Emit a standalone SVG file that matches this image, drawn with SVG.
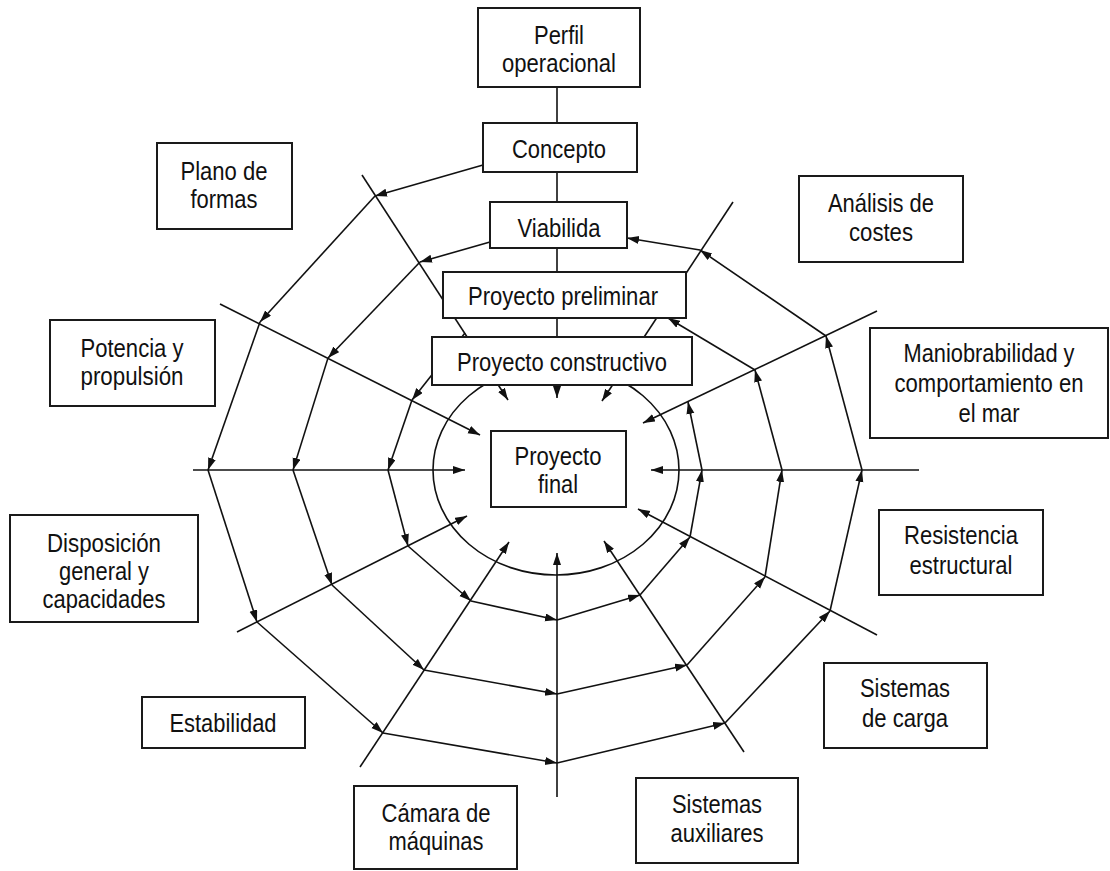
<svg xmlns="http://www.w3.org/2000/svg" width="1110" height="871" viewBox="0 0 1110 871">
  <defs>
    <marker id="ah" markerUnits="userSpaceOnUse" markerWidth="13" markerHeight="9" refX="12" refY="4" orient="auto">
      <path d="M0,0 L12,4 L0,8 z" fill="#111"/>
    </marker>
    <style>
      .box { fill: #fff; stroke: #1a1a1a; stroke-width: 2; }
      .ln { fill: none; stroke: #111; stroke-width: 1.6; }
      .ar { fill: none; stroke: #111; stroke-width: 1.6; marker-end: url(#ah); }
      .t { font-family: "Liberation Sans", Arial, sans-serif; font-size: 25px; fill: #111; text-anchor: middle; }
    </style>
  </defs>

  <rect width="1110" height="871" fill="#fff"/>

  <!-- connectors: spokes, central ring and spiral arrows -->
  <g id="connectors">
    <!-- inner ring around the final project -->
    <ellipse class="ln" cx="556" cy="470" rx="123" ry="105"/>

    <!-- radial spokes -->
    <line class="ar" x1="557" y1="87" x2="557" y2="398"/>
    <line class="ar" x1="362" y1="175" x2="508" y2="400"/>
    <line class="ar" x1="733" y1="202" x2="602" y2="401"/>
    <line class="ar" x1="220" y1="304" x2="480" y2="435"/>
    <line class="ar" x1="877" y1="311" x2="643" y2="423"/>
    <line class="ar" x1="193" y1="470" x2="465" y2="470"/>
    <line class="ar" x1="919" y1="470" x2="651" y2="470"/>
    <line class="ar" x1="237" y1="632" x2="467" y2="516"/>
    <line class="ar" x1="877" y1="635" x2="638" y2="509"/>
    <line class="ar" x1="360" y1="767" x2="509" y2="542"/>
    <line class="ar" x1="744" y1="752" x2="604" y2="541"/>
    <line class="ar" x1="557" y1="797" x2="557" y2="553"/>

    <!-- outer turn: Concepto to Viabilida -->
    <line class="ar" x1="483" y1="165" x2="375" y2="196"/>
    <line class="ar" x1="375" y1="196" x2="260" y2="322"/>
    <line class="ar" x1="260" y1="322" x2="208" y2="470"/>
    <line class="ar" x1="208" y1="470" x2="257" y2="622"/>
    <line class="ar" x1="257" y1="622" x2="383" y2="733"/>
    <line class="ar" x1="383" y1="733" x2="557" y2="763"/>
    <line class="ar" x1="557" y1="763" x2="725" y2="723"/>
    <line class="ar" x1="725" y1="723" x2="830" y2="611"/>
    <line class="ar" x1="830" y1="611" x2="862" y2="470"/>
    <line class="ar" x1="862" y1="470" x2="826" y2="336"/>
    <line class="ar" x1="826" y1="336" x2="700" y2="250"/>
    <line class="ar" x1="700" y1="250" x2="627" y2="238"/>

    <!-- middle turn: Viabilida to Proyecto preliminar -->
    <line class="ar" x1="490" y1="242" x2="420" y2="262"/>
    <line class="ar" x1="420" y1="262" x2="328" y2="358"/>
    <line class="ar" x1="328" y1="358" x2="293" y2="470"/>
    <line class="ar" x1="293" y1="470" x2="332" y2="585"/>
    <line class="ar" x1="332" y1="585" x2="424" y2="670"/>
    <line class="ar" x1="424" y1="670" x2="557" y2="694"/>
    <line class="ar" x1="557" y1="694" x2="687" y2="665"/>
    <line class="ar" x1="687" y1="665" x2="765" y2="577"/>
    <line class="ar" x1="765" y1="577" x2="782" y2="470"/>
    <line class="ar" x1="782" y1="470" x2="755" y2="370"/>
    <line class="ar" x1="755" y1="370" x2="668" y2="318"/>

    <!-- inner turn: Proyecto preliminar towards the final project -->
    <line class="ar" x1="465" y1="333" x2="412" y2="400"/>
    <line class="ar" x1="412" y1="400" x2="388" y2="470"/>
    <line class="ar" x1="388" y1="470" x2="408" y2="546"/>
    <line class="ar" x1="408" y1="546" x2="471" y2="601"/>
    <line class="ar" x1="471" y1="601" x2="557" y2="620"/>
    <line class="ar" x1="557" y1="620" x2="640" y2="595"/>
    <line class="ar" x1="640" y1="595" x2="690" y2="537"/>
    <line class="ar" x1="690" y1="537" x2="702" y2="470"/>
    <line class="ar" x1="702" y1="470" x2="688" y2="402"/>
  </g>

  <!-- design stages along the vertical axis -->
  <g id="perfil">
    <rect class="box" x="478" y="8" width="162" height="79"/>
    <text class="t" x="559" y="44" textLength="50" lengthAdjust="spacingAndGlyphs">Perfil</text>
    <text class="t" x="559" y="72" textLength="114" lengthAdjust="spacingAndGlyphs">operacional</text>
  </g>
  <g id="concepto">
    <rect class="box" x="483" y="123" width="154" height="49"/>
    <text class="t" x="559" y="158" textLength="94" lengthAdjust="spacingAndGlyphs">Concepto</text>
  </g>
  <g id="viabilidad">
    <rect class="box" x="490" y="202" width="137" height="46"/>
    <text class="t" x="559" y="237" textLength="83" lengthAdjust="spacingAndGlyphs">Viabilida</text>
  </g>
  <g id="preliminar">
    <rect class="box" x="443" y="272" width="243" height="46"/>
    <text class="t" x="563" y="305" textLength="190" lengthAdjust="spacingAndGlyphs">Proyecto preliminar</text>
  </g>
  <g id="constructivo">
    <rect class="box" x="432" y="337" width="260" height="48"/>
    <text class="t" x="562" y="371" textLength="210" lengthAdjust="spacingAndGlyphs">Proyecto constructivo</text>
  </g>
  <g id="final">
    <rect class="box" x="491" y="431" width="135" height="76"/>
    <text class="t" x="558" y="465" textLength="87" lengthAdjust="spacingAndGlyphs">Proyecto</text>
    <text class="t" x="558" y="493" textLength="40" lengthAdjust="spacingAndGlyphs">final</text>
  </g>

  <!-- design disciplines around the spiral -->
  <g id="plano">
    <rect class="box" x="157" y="143" width="135" height="86"/>
    <text class="t" x="224" y="180" textLength="87" lengthAdjust="spacingAndGlyphs">Plano de</text>
    <text class="t" x="224" y="208" textLength="67" lengthAdjust="spacingAndGlyphs">formas</text>
  </g>
  <g id="potencia">
    <rect class="box" x="50" y="320" width="165" height="86"/>
    <text class="t" x="132" y="357" textLength="103" lengthAdjust="spacingAndGlyphs">Potencia y</text>
    <text class="t" x="132" y="385" textLength="103" lengthAdjust="spacingAndGlyphs">propulsión</text>
  </g>
  <g id="disposicion">
    <rect class="box" x="10" y="515" width="188" height="107"/>
    <text class="t" x="104" y="552" textLength="114" lengthAdjust="spacingAndGlyphs">Disposición</text>
    <text class="t" x="104" y="580" textLength="90" lengthAdjust="spacingAndGlyphs">general y</text>
    <text class="t" x="104" y="608" textLength="123" lengthAdjust="spacingAndGlyphs">capacidades</text>
  </g>
  <g id="estabilidad">
    <rect class="box" x="142" y="697" width="163" height="51"/>
    <text class="t" x="223" y="732" textLength="107" lengthAdjust="spacingAndGlyphs">Estabilidad</text>
  </g>
  <g id="camara">
    <rect class="box" x="354" y="786" width="163" height="83"/>
    <text class="t" x="436" y="822" textLength="109" lengthAdjust="spacingAndGlyphs">Cámara de</text>
    <text class="t" x="436" y="850" textLength="95" lengthAdjust="spacingAndGlyphs">máquinas</text>
  </g>
  <g id="auxiliares">
    <rect class="box" x="636" y="778" width="162" height="85"/>
    <text class="t" x="717" y="813" textLength="90" lengthAdjust="spacingAndGlyphs">Sistemas</text>
    <text class="t" x="717" y="842" textLength="93" lengthAdjust="spacingAndGlyphs">auxiliares</text>
  </g>
  <g id="carga">
    <rect class="box" x="824" y="663" width="163" height="85"/>
    <text class="t" x="905" y="697" textLength="90" lengthAdjust="spacingAndGlyphs">Sistemas</text>
    <text class="t" x="905" y="727" textLength="86" lengthAdjust="spacingAndGlyphs">de carga</text>
  </g>
  <g id="resistencia">
    <rect class="box" x="879" y="510" width="164" height="85"/>
    <text class="t" x="961" y="544" textLength="114" lengthAdjust="spacingAndGlyphs">Resistencia</text>
    <text class="t" x="961" y="574" textLength="103" lengthAdjust="spacingAndGlyphs">estructural</text>
  </g>
  <g id="maniobrabilidad">
    <rect class="box" x="870" y="328" width="238" height="110"/>
    <text class="t" x="989" y="362" textLength="171" lengthAdjust="spacingAndGlyphs">Maniobrabilidad y</text>
    <text class="t" x="989" y="392" textLength="189" lengthAdjust="spacingAndGlyphs">comportamiento en</text>
    <text class="t" x="989" y="422" textLength="61" lengthAdjust="spacingAndGlyphs">el mar</text>
  </g>
  <g id="costes">
    <rect class="box" x="799" y="176" width="164" height="86"/>
    <text class="t" x="881" y="212" textLength="106" lengthAdjust="spacingAndGlyphs">Análisis de</text>
    <text class="t" x="881" y="241" textLength="64" lengthAdjust="spacingAndGlyphs">costes</text>
  </g>
</svg>
